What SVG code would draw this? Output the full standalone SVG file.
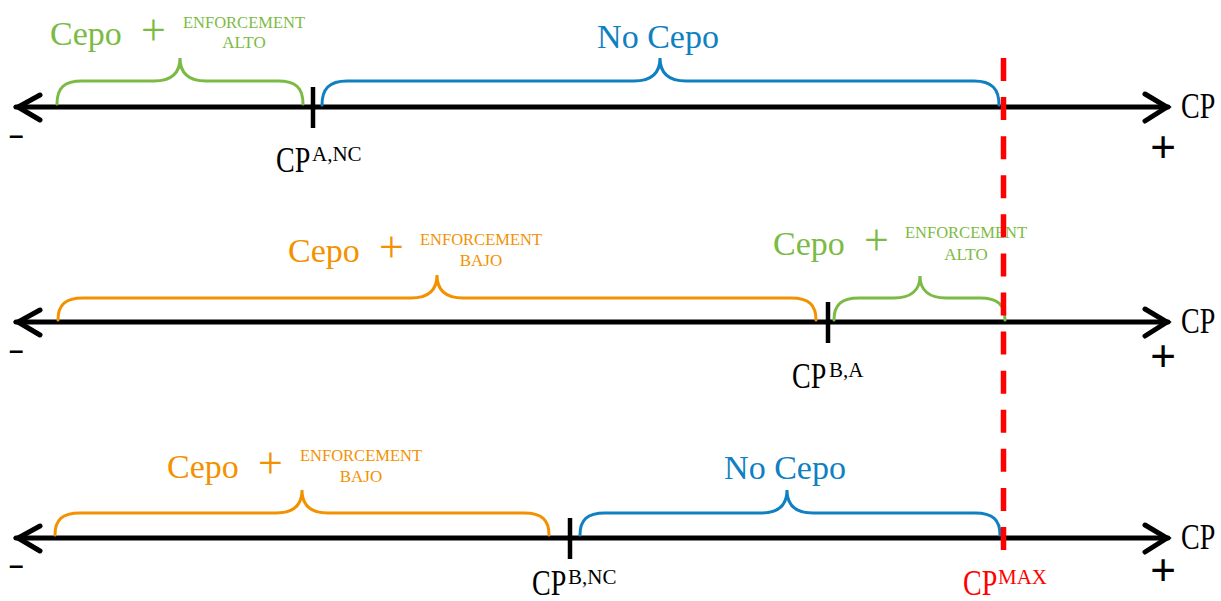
<svg xmlns="http://www.w3.org/2000/svg" width="1221" height="601" viewBox="0 0 1221 601">
<style>
.axis{stroke:#000;stroke-width:5;fill:none;stroke-linecap:round}
.head{stroke:#000;stroke-width:5;fill:none;stroke-linecap:round;stroke-linejoin:miter}
.tick{stroke:#000;stroke-width:4.5}
.brace{fill:none;stroke-width:3;stroke-linecap:round}
.g{stroke:#7bbb44}.gt{fill:#7bbb44}
.b{stroke:#0f80c1}.bt{fill:#0f80c1}
.o{stroke:#f39200}.ot{fill:#f39200}
.serif{font-family:"Liberation Serif","Times New Roman",serif}
.big{font-size:34px}
.plus{font-size:44px}
.small{font-size:17px}
.cp{font-family:"Liberation Serif",serif;font-size:28px;fill:#000}
.sup{font-family:"Liberation Serif",serif;font-size:21px;fill:#000}
.sign{font-family:"Liberation Sans",Arial,sans-serif;fill:#000}
</style>
<rect width="1221" height="601" fill="#fff"/>

<g id="connectors">
  <line class="axis" x1="16" y1="107" x2="1168" y2="107"/>
  <polyline class="head" points="40,95 18,107 40,120"/>
  <polyline class="head" points="1145,94 1167,107 1145,121"/>
  <line class="axis" x1="16" y1="322" x2="1168" y2="322"/>
  <polyline class="head" points="40,310 18,322 40,335"/>
  <polyline class="head" points="1145,309 1167,322 1145,336"/>
  <line class="axis" x1="16" y1="538" x2="1168" y2="538"/>
  <polyline class="head" points="40,526 18,538 40,551"/>
  <polyline class="head" points="1145,525 1167,538 1145,552"/>
</g>

<g id="row1">
  <line class="tick" x1="313" y1="87" x2="313" y2="128"/>
  <path class="brace g" d="M57,104 C57,88 64,81 82,81 L154,81 C170,81 180,74 180,58 C180,74 190,81 206,81 L278,81 C296,81 303,88 303,104"/>
  <path class="brace b" d="M322,105 C322,89 329,81 347,81 L634,81 C650,81 660,74 660,58 C660,74 670,81 686,81 L974,81 C992,81 999,89 999,105"/>
  <text class="serif big gt" x="50" y="45">Cepo</text>
  <text class="serif plus gt" x="153.5" y="45" text-anchor="middle">+</text>
  <text class="serif small gt" x="183" y="28" textLength="122" lengthAdjust="spacingAndGlyphs">ENFORCEMENT</text>
  <text class="serif small gt" x="244" y="48" text-anchor="middle">ALTO</text>
  <text class="serif big bt" x="658" y="48" text-anchor="middle">No Cepo</text>
  <text class="cp" transform="translate(276,172) scale(1,1.25)">CP</text>
  <text class="sup" x="312" y="161">A,NC</text>
  <text class="sign" x="9" y="144" font-size="26" font-weight="bold">–</text>
  <text class="sign" x="1163" y="162" font-size="44" text-anchor="middle">+</text>
  <text class="cp" transform="translate(1181,118) scale(1,1.25)">CP</text>
</g>

<g id="row2">
  <line class="tick" x1="828" y1="302" x2="828" y2="343"/>
  <path class="brace o" d="M58,320 C58,305 65,298 83,298 L411,298 C427,298 437,291 437,275 C437,291 447,298 463,298 L791,298 C809,298 816,305 816,320"/>
  <path class="brace g" d="M834,320 C834,305 841,298 859,298 L894,298 C910,298 920,291 920,276 C920,291 930,298 946,298 L980,298 C998,298 1005,305 1005,320"/>
  <text class="serif big ot" x="288" y="262">Cepo</text>
  <text class="serif plus ot" x="391.5" y="262" text-anchor="middle">+</text>
  <text class="serif small ot" x="420" y="245" textLength="122" lengthAdjust="spacingAndGlyphs">ENFORCEMENT</text>
  <text class="serif small ot" x="481" y="266" text-anchor="middle">BAJO</text>
  <text class="serif big gt" x="773" y="255">Cepo</text>
  <text class="serif plus gt" x="876.5" y="255" text-anchor="middle">+</text>
  <text class="serif small gt" x="905" y="238" textLength="122" lengthAdjust="spacingAndGlyphs">ENFORCEMENT</text>
  <text class="serif small gt" x="966" y="260" text-anchor="middle">ALTO</text>
  <text class="cp" transform="translate(792,388) scale(1,1.25)">CP</text>
  <text class="sup" x="829" y="377">B,A</text>
  <text class="sign" x="9" y="359" font-size="26" font-weight="bold">–</text>
  <text class="sign" x="1163" y="371" font-size="44" text-anchor="middle">+</text>
  <text class="cp" transform="translate(1181,333) scale(1,1.25)">CP</text>
</g>

<g id="row3">
  <line class="tick" x1="570" y1="518" x2="570" y2="559"/>
  <path class="brace o" d="M55,535 C55,520 62,513 80,513 L276,513 C292,513 302,506 302,490 C302,506 312,513 328,513 L524,513 C542,513 549,520 549,535"/>
  <path class="brace b" d="M580,535 C580,520 587,513 605,513 L761,513 C777,513 787,506 787,490 C787,506 797,513 813,513 L975,513 C993,513 1000,520 1000,535"/>
  <text class="serif big ot" x="167" y="478">Cepo</text>
  <text class="serif plus ot" x="270.5" y="478" text-anchor="middle">+</text>
  <text class="serif small ot" x="300" y="461" textLength="122" lengthAdjust="spacingAndGlyphs">ENFORCEMENT</text>
  <text class="serif small ot" x="361" y="482" text-anchor="middle">BAJO</text>
  <text class="serif big bt" x="785" y="479" text-anchor="middle">No Cepo</text>
  <text class="cp" transform="translate(532,595) scale(1,1.25)">CP</text>
  <text class="sup" x="568" y="584">B,NC</text>
  <text class="sign" x="9" y="574" font-size="26" font-weight="bold">–</text>
  <text class="sign" x="1163" y="585" font-size="44" text-anchor="middle">+</text>
  <text class="cp" transform="translate(1181,549) scale(1,1.25)">CP</text>
</g>

<g id="cpmax">
  <line x1="1003.5" y1="58" x2="1003.5" y2="550" stroke="#ff0000" stroke-width="5.5" stroke-dasharray="23 16.08"/>
  <text class="cp" transform="translate(963,595) scale(1,1.25)" style="fill:#ff0000">CP</text>
  <text class="sup" x="998" y="584" style="fill:#ff0000">MAX</text>
</g>
</svg>
